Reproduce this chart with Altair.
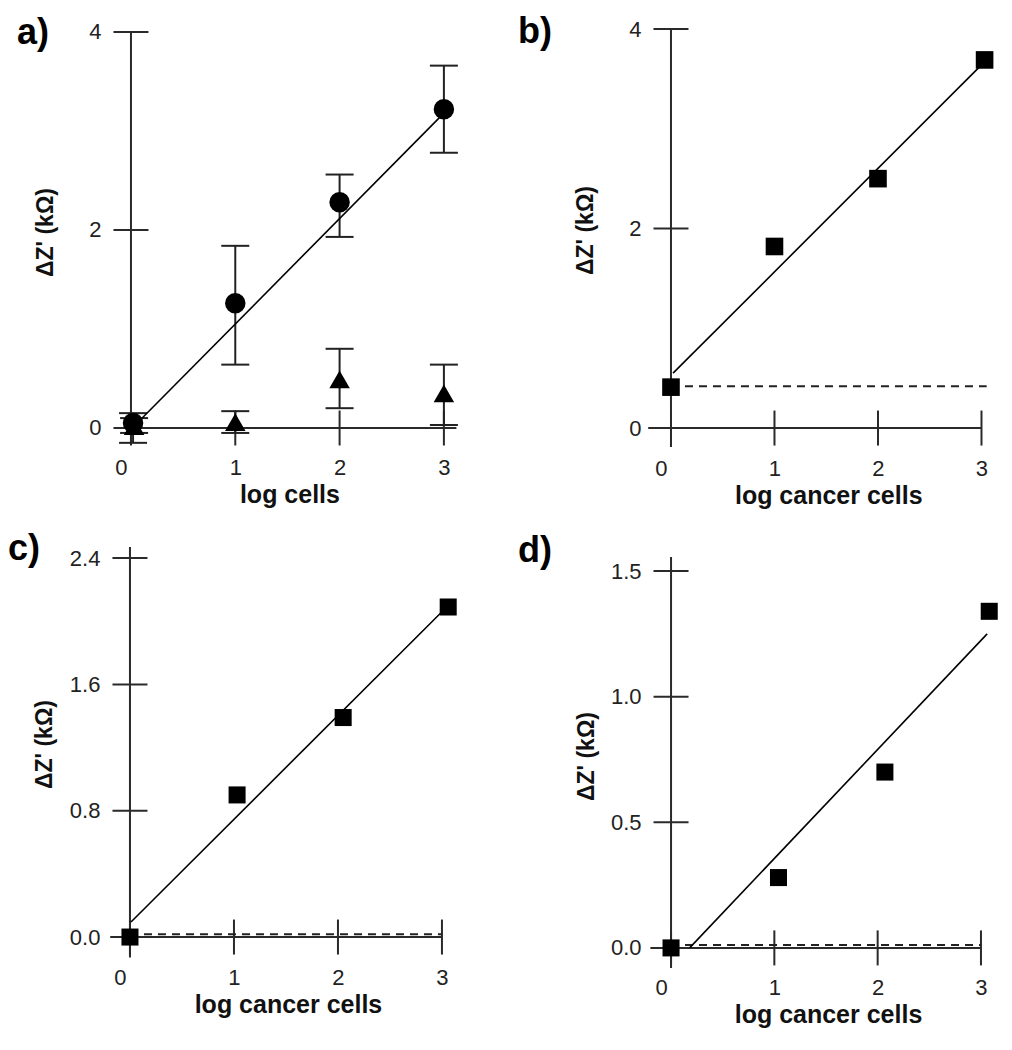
import altair as alt
import pandas as pd

# ---------------- data ----------------
# Panel a: circles (cancer cells) and triangles (control), with error bars
a_circ_x = [0.02, 1.0, 2.0, 3.0]
a_circ_y = [0.05, 1.26, 2.28, 3.22]
a_circ_lo = [-0.15, 0.64, 1.93, 2.78]
a_circ_hi = [0.15, 1.84, 2.56, 3.66]
a_tri_x = [0.03, 1.0, 2.0, 3.0]
a_tri_y = [0.02, 0.06, 0.49, 0.35]
a_tri_lo = [-0.05, -0.05, 0.20, 0.03]
a_tri_hi = [0.10, 0.17, 0.80, 0.64]
a_fit_x = [0.06, 3.0]
a_fit_y = [0.05, 3.18]

# Panel b
b_x = [0.0, 1.0, 2.0, 3.03]
b_y = [0.41, 1.82, 2.50, 3.69]
b_fit_x = [0.02, 3.0]
b_fit_y = [0.55, 3.64]
b_base_x = [0.0, 3.05]
b_base_y = [0.42, 0.42]

# Panel c
c_x = [0.0, 1.03, 2.05, 3.06]
c_y = [0.0, 0.90, 1.39, 2.09]
c_fit_x = [0.01, 3.0]
c_fit_y = [0.095, 2.06]
c_base_x = [0.0, 3.0]
c_base_y = [0.018, 0.018]

# Panel d
d_x = [0.0, 1.04, 2.07, 3.08]
d_y = [0.0, 0.28, 0.70, 1.34]
d_fit_x = [0.18, 3.06]
d_fit_y = [0.0, 1.25]
d_base_x = [0.0, 3.0]
d_base_y = [0.012, 0.012]

# axis ticks and axis line extents (data units)
x_ticks = [0, 1, 2, 3]
a_y_ticks = [0, 2, 4]
b_y_ticks = [0, 2, 4]
c_y_ticks = [0.0, 0.8, 1.6, 2.4]
d_y_ticks = [0.0, 0.5, 1.0, 1.5]
a_xline = [-0.15, 3.12]
a_yline = [-0.17, 4.0]
b_xline = [-0.22, 3.0]
b_yline = [-0.19, 4.0]
c_xline = [-0.19, 3.0]
c_yline = [-0.13, 2.47]
d_xline = [-0.20, 3.0]
d_yline = [-0.08, 1.556]

panel_labels = ["a)", "b)", "c)", "d)"]
x_titles = ["log cells", "log cancer cells", "log cancer cells", "log cancer cells"]
y_title = "ΔZ' (kΩ)"

FONT = "Liberation Sans, Arial, Helvetica, sans-serif"
AXC = "#2a2a2a"


def df(xs, ys, **extra):
    d = {"x": xs, "y": ys}
    d.update(extra)
    return pd.DataFrame(d)


def panel(label, xtitle, xdom, ydom, w, h, xline, yline, yt, yfmt,
          label_dx, label_dy, ytitle_y, points, fits, bases, errs=None):
    px0 = w * (0 - xdom[0]) / (xdom[1] - xdom[0])
    px3 = w * (3 - xdom[0]) / (xdom[1] - xdom[0])
    yoff = -h * (0 - ydom[0]) / (ydom[1] - ydom[0])
    xs = alt.Scale(domain=xdom, nice=False, zero=False)
    ys = alt.Scale(domain=ydom, nice=False, zero=False)
    x_axis = alt.Axis(
        values=x_ticks, format="d", offset=yoff, grid=False,
        domain=False, ticks=False, tickSize=0,
        labelPadding=30, labelFontSize=22, labelFont=FONT, labelColor="#222",
        labelOffset={"condition": {"test": "datum.value === 0", "value": -10}, "value": 0},
        labelFlush=False, labelOverlap=False,
        title=xtitle, titleFont=FONT, titleFontSize=25, titleFontWeight="bold",
        titleColor="#111", titleX=(px0 + px3) / 2 + 2, titleY=75,
        titleBaseline="alphabetic", titleAlign="center",
    )
    y_axis = alt.Axis(
        values=yt, format=yfmt, offset=-px0, grid=False,
        domain=False, ticks=False, tickSize=0,
        labelPadding=30, labelFontSize=22, labelFont=FONT, labelColor="#222",
        labelFlush=False, labelOverlap=False,
        title=y_title, titleFont=FONT, titleFontSize=23, titleFontWeight="bold",
        titleColor="#111", titleAngle=270, titleX=-73, titleY=ytitle_y,
        titleBaseline="bottom", titleAlign="center",
    )
    X = alt.X("x:Q", scale=xs, axis=x_axis)
    Y = alt.Y("y:Q", scale=ys, axis=y_axis)

    layers = []
    # axis lines
    layers.append(alt.Chart(df([xline[0]], [0], x2=[xline[1]])).mark_rule(
        color=AXC, strokeWidth=2).encode(x=X, x2="x2:Q", y=Y))
    layers.append(alt.Chart(df([0], [yline[0]], y2=[yline[1]])).mark_rule(
        color=AXC, strokeWidth=2).encode(x=X, y=Y, y2="y2:Q"))
    # crossing tick marks on both axes
    layers.append(alt.Chart(df(x_ticks, [0] * len(x_ticks))).mark_tick(
        orient="vertical", size=35, thickness=2, color=AXC, opacity=1).encode(x=X, y=Y))
    layers.append(alt.Chart(df([0] * len(yt), yt)).mark_tick(
        orient="horizontal", size=35, thickness=2, color=AXC, opacity=1).encode(x=X, y=Y))
    for bx, by in bases:
        layers.append(alt.Chart(df(bx, by)).mark_line(
            color="#222", strokeWidth=2, strokeDash=[8, 6]).encode(x=X, y=Y))
    if errs:
        for ex, lo, hi in errs:
            layers.append(alt.Chart(df(ex, lo, y2=hi)).mark_rule(
                color="#222", strokeWidth=2).encode(x=X, y=Y, y2="y2:Q"))
            layers.append(alt.Chart(df(ex + ex, lo + hi)).mark_tick(
                orient="horizontal", size=28, thickness=2, color="#222", opacity=1
            ).encode(x=X, y=Y))
    for fx, fy in fits:
        layers.append(alt.Chart(df(fx, fy)).mark_line(
            color="black", strokeWidth=1.6).encode(x=X, y=Y))
    for px, py, shape, size in points:
        layers.append(alt.Chart(df(px, py)).mark_point(
            shape=shape, filled=True, size=size, color="black", opacity=1,
            strokeWidth=0).encode(x=X, y=Y))

    return alt.layer(*layers).properties(
        width=w, height=h,
        title=alt.TitleParams(
            text=label, anchor="start", frame="group", orient="none",
            font=FONT, fontSize=36, fontWeight="bold", color="black",
            offset=0, baseline="alphabetic", dx=label_dx, dy=label_dy,
        ),
    )


W1, W2, H1, H2 = 346, 334, 418, 421

pa = panel(panel_labels[0], x_titles[0], [-0.201, 3.116], [-0.192, 4.03], W1, H1,
           a_xline, a_yline, a_y_ticks, "d", -93, 15, 203,
           points=[(a_circ_x, a_circ_y, "circle", 420),
                   (a_tri_x, a_tri_y, "triangle-up", 420)],
           fits=[(a_fit_x, a_fit_y)], bases=[],
           errs=[(a_circ_x, a_circ_lo, a_circ_hi), (a_tri_x, a_tri_lo, a_tri_hi)])

pb = panel(panel_labels[1], x_titles[1], [-0.222, 3.005], [-0.19, 4.0], W2, H1,
           b_xline, b_yline, b_y_ticks, "d", -130, 14, 201,
           points=[(b_x, b_y, "square", 310)],
           fits=[(b_fit_x, b_fit_y)], bases=[(b_base_x, b_base_y)])

pc = panel(panel_labels[2], x_titles[2], [-0.192, 3.135], [-0.196, 2.47], W1, H2,
           c_xline, c_yline, c_y_ticks, ".1f", -102, 13, 197,
           points=[(c_x, c_y, "square", 290)],
           fits=[(c_fit_x, c_fit_y)], bases=[(c_base_x, c_base_y)])

pd_ = panel(panel_labels[3], x_titles[3], [-0.223, 3.01], [-0.08, 1.596], W2, H2,
            d_xline, d_yline, d_y_ticks, ".1f", -130, 15, 209,
            points=[(d_x, d_y, "square", 290)],
            fits=[(d_fit_x, d_fit_y)], bases=[(d_base_x, d_base_y)])

chart = alt.concat(
    pa, pb, pc, pd_, columns=2, bounds="flush", align="each",
    spacing={"row": 100, "column": 192},
).properties(
    padding={"left": 0, "top": 6, "right": 0, "bottom": 0}
).configure(background="white").configure_view(stroke=None, strokeWidth=0)

chart.save("out.html", embed_options={"renderer": "svg", "actions": False})
